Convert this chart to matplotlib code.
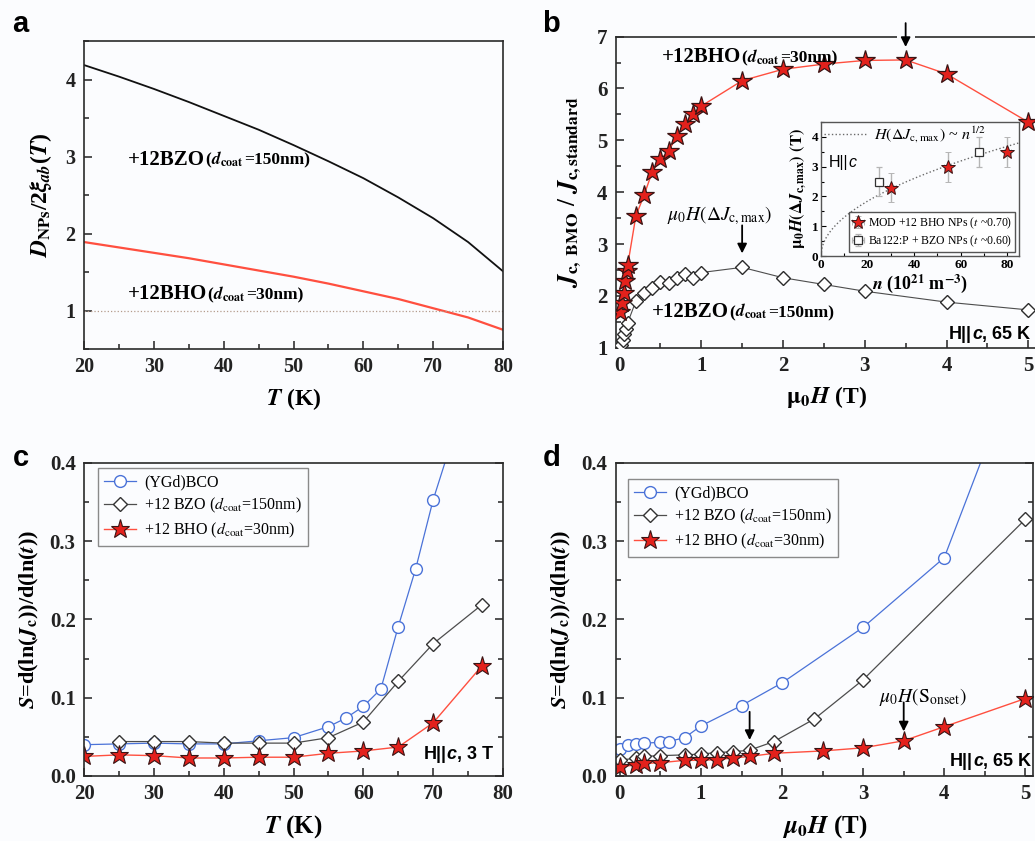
import numpy as np
import matplotlib
matplotlib.use("Agg")
import matplotlib.pyplot as plt
from matplotlib.ticker import MultipleLocator
from matplotlib.offsetbox import TextArea, HPacker, AnnotationBbox

plt.rcParams["font.family"] = "Liberation Serif"
plt.rcParams["axes.labelweight"] = "bold"
plt.rcParams["mathtext.fontset"] = "stix"
plt.rcParams["axes.linewidth"] = 1.2

BG = "#fbfcfe"
RED_LINE = "#ff4f3f"
RED_FILL = "#e3211c"
STAR_EDGE = "#3a1414"
BLUE = "#4a72d8"
GRAY = "#4d4d4d"

# ---- panel a: D_NPs / 2 xi_ab(T) ----
t_a = [20, 25, 30, 35, 40, 45, 50, 55, 60, 65, 70, 75, 80]
ratio_bzo = [4.19, 4.04, 3.88, 3.71, 3.53, 3.35, 3.15, 2.94, 2.72, 2.47, 2.20, 1.89, 1.51]
ratio_bho = [1.89, 1.82, 1.75, 1.68, 1.60, 1.52, 1.44, 1.35, 1.25, 1.15, 1.03, 0.91, 0.75]

# ---- panel b: Jc ratio vs field, 65 K ----
h_bho_b = [0.01, 0.03, 0.05, 0.07, 0.09, 0.1, 0.2, 0.3, 0.4, 0.5, 0.6, 0.7, 0.8, 0.9,
           1.0, 1.5, 2.0, 2.5, 3.0, 3.5, 4.0, 5.0]
jc_bho_b = [1.69, 1.87, 2.05, 2.29, 2.48, 2.59, 3.54, 3.94, 4.39, 4.63, 4.79, 5.08, 5.31,
            5.50, 5.66, 6.15, 6.37, 6.47, 6.54, 6.55, 6.28, 5.35]
h_bzo_b = [0.02, 0.04, 0.06, 0.08, 0.1, 0.2, 0.3, 0.4, 0.5, 0.6, 0.7, 0.8, 0.9, 1.0,
           1.5, 2.0, 2.5, 3.0, 4.0, 5.0]
jc_bzo_b = [1.05, 1.15, 1.27, 1.37, 1.48, 1.90, 2.06, 2.15, 2.27, 2.24, 2.34, 2.43, 2.35,
            2.45, 2.55, 2.35, 2.22, 2.09, 1.88, 1.73]

# inset: peak field vs NP density
n_bho = [30, 54.5, 80]
hmax_bho = [2.3, 3.0, 3.5]
err_bho = [0.5, 0.5, 0.5]
n_ba122 = [25, 68]
hmax_ba122 = [2.5, 3.5]
err_ba122 = [0.5, 0.5]
fit_coef = 0.412  # H ~ n^1/2

# ---- panel c: S vs T at 3 T ----
t_ygd = [20, 25, 30, 35, 40, 45, 50, 55, 57.5, 60, 62.5, 65, 67.5, 70, 77]
s_ygd = [0.040, 0.041, 0.042, 0.041, 0.041, 0.045, 0.049, 0.063, 0.074, 0.089, 0.111,
         0.191, 0.265, 0.353, 0.55]
t_bzo = [25, 30, 35, 40, 45, 50, 55, 60, 65, 70, 77]
s_bzo = [0.044, 0.044, 0.044, 0.042, 0.042, 0.042, 0.049, 0.069, 0.121, 0.169, 0.219]
t_bho = [20, 25, 30, 35, 40, 45, 50, 55, 60, 65, 70, 77]
s_bho = [0.025, 0.027, 0.026, 0.023, 0.023, 0.024, 0.024, 0.029, 0.032, 0.037, 0.068, 0.141]

# ---- panel d: S vs field at 65 K ----
h_ygd = [0, 0.1, 0.2, 0.3, 0.5, 0.6, 0.8, 1.0, 1.5, 2.0, 3.0, 4.0, 5.0]
sd_ygd = [0.034, 0.040, 0.041, 0.042, 0.043, 0.044, 0.049, 0.064, 0.090, 0.119, 0.190,
          0.279, 0.55]
h_bzo = [0, 0.2, 0.3, 0.5, 0.8, 1.0, 1.2, 1.4, 1.6, 1.9, 2.4, 3.0, 5.0]
sd_bzo = [0.020, 0.023, 0.025, 0.026, 0.027, 0.028, 0.030, 0.031, 0.033, 0.044, 0.073,
          0.123, 0.328]
h_bho = [0, 0.2, 0.3, 0.5, 0.8, 1.0, 1.2, 1.4, 1.6, 1.9, 2.5, 3.0, 3.5, 4.0, 5.0]
sd_bho = [0.012, 0.014, 0.016, 0.017, 0.020, 0.020, 0.021, 0.023, 0.025, 0.029, 0.032,
          0.036, 0.045, 0.063, 0.099]


def rich(ax, xy, parts, align=(0, 0.5), coords="data", zorder=6):
    """Place a run of differently styled text pieces on one baseline."""
    boxes = [TextArea(s, textprops=p) for s, p in parts]
    pack = HPacker(children=boxes, align="baseline", pad=0, sep=0)
    ab = AnnotationBbox(pack, xy, xycoords=coords, box_alignment=align,
                        frameon=False, pad=0, annotation_clip=False)
    ab.set_zorder(zorder)
    ax.add_artist(ab)


def sample_label(ax, xy, name, coat):
    small = dict(size=12.5, weight="bold")
    rich(ax, xy, [(name, dict(size=15, weight="bold")), ("(", small),
                  (r"$\mathbfit{d}_{\mathbf{coat}}$", dict(size=12.5)),
                  ("=" + coat + ")", small)])


def field_label(ax, head, tail, xy):
    sans = dict(family="Liberation Sans", size=13, weight="bold")
    rich(ax, xy, [(head, sans), ("c", dict(sans, style="italic")), (tail, sans)],
         align=(1, 0), coords="axes fraction")


def style_axes(ax, xmaj, xmin, ymaj, ymin, right=False, size=14.5):
    ax.set_facecolor(BG)
    ax.xaxis.set_major_locator(MultipleLocator(xmaj))
    ax.xaxis.set_minor_locator(MultipleLocator(xmin))
    ax.yaxis.set_major_locator(MultipleLocator(ymaj))
    ax.yaxis.set_minor_locator(MultipleLocator(ymin))
    ax.tick_params(which="both", direction="in", right=right, width=1.1,
                   labelsize=size, colors="#222")
    ax.tick_params(which="major", length=6, pad=6)
    ax.tick_params(which="minor", length=3.5)
    for lab in ax.get_xticklabels() + ax.get_yticklabels():
        lab.set_fontweight("bold")
    for sp in ax.spines.values():
        sp.set_color("#2a2a2a")


def arrow(ax, tail, tip, zorder=5):
    ax.annotate("", xy=tip, xytext=tail, annotation_clip=False, zorder=zorder,
                arrowprops=dict(arrowstyle="-|>", color="black", lw=1.3,
                                mutation_scale=14, shrinkA=0, shrinkB=0))


fig = plt.figure(figsize=(10.35, 8.41), dpi=100, facecolor=BG)

# ---------------- a ----------------
ax_a = fig.add_axes([0.0812, 0.585, 0.4048, 0.366])
ax_a.plot(t_a, ratio_bzo, color="#111111", lw=1.3)
ax_a.plot(t_a, ratio_bho, color=RED_LINE, lw=1.6)
ax_a.axhline(1, color="#b49c8c", lw=0.9, ls=":")
ax_a.set_xlim(20, 80)
ax_a.set_ylim(0.5, 4.5)
style_axes(ax_a, 10, 5, 1, 0.5)
ax_a.set_xlabel(r"$\mathbfit{T}$ (K)", size=17, labelpad=6)
ax_a.set_ylabel(r"$\mathbfit{D}_{\mathbf{NPs}}$/2$\mathbfit{\xi}_{\mathbfit{ab}}$"
                r"($\mathbfit{T}$)", size=17, labelpad=8)
sample_label(ax_a, (26.3, 2.96), "+12BZO", "150nm")
sample_label(ax_a, (26.3, 1.21), "+12BHO", "30nm")

# ---------------- b ----------------
ax_b = fig.add_axes([0.595, 0.5865, 0.4064, 0.3700])
ax_b.plot(h_bzo_b, jc_bzo_b, color=GRAY, lw=0.8, marker="D", ms=7, mfc="white",
          mec="#2b2b2b", mew=1.0, zorder=3)
ax_b.plot(h_bho_b, jc_bho_b, color=RED_LINE, lw=1.0, marker="*", ms=15, mfc=RED_FILL,
          mec=STAR_EDGE, mew=0.9, zorder=4)
ax_b.set_xlim(-0.045, 5.1)
ax_b.set_ylim(1, 7)
style_axes(ax_b, 1, 0.5, 1, 0.5, size=15)
ax_b.spines["right"].set_visible(False)
ax_b.set_xlabel(r"$\mathbf{\mu_0}\mathbfit{H}$ (T)", size=17, labelpad=6)
ax_b.set_ylabel(r"$\mathbfit{J}_{\mathbf{c,\ BMO}}$ / $\mathbfit{J}_{\mathbf{c,standard}}$",
                size=18, labelpad=10)
sample_label(ax_b, (0.52, 6.6), "+12BHO", "30nm")
sample_label(ax_b, (0.40, 1.69), "+12BZO", "150nm")
ax_b.text(1.23, 3.55, r"$\mu_0H(\Delta J_{\rm c,max})$", size=14,
          ha="center", va="center")
arrow(ax_b, (1.5, 3.36), (1.5, 2.82))
ax_b.plot([3.39, 3.61], [7, 7], color=BG, lw=4, clip_on=False, zorder=3,
          solid_capstyle="butt")
arrow(ax_b, (3.5, 7.26), (3.5, 6.80))
field_label(ax_b, "H||", ", 65 K", (0.985, 0.015))

# inset
ax_in = fig.add_axes([0.7932, 0.6956, 0.1913, 0.1593])
n_fit = np.linspace(0, 85, 300)
ax_in.plot(n_fit, fit_coef * np.sqrt(n_fit), color="#6a6a6a", lw=1.0, ls=":",
           label=r"$H(\Delta J_{\rm c,max})$ ~ $n^{1/2}$")
ax_in.errorbar(n_bho, hmax_bho, yerr=err_bho, xerr=1.5, fmt="*", ms=10, mfc=RED_FILL,
               mec=STAR_EDGE, mew=0.7, ecolor="#b5b5b5", elinewidth=1.0, capsize=2,
               label=r"MOD +12 BHO NPs ($t$ ~0.70)")
ax_in.errorbar(n_ba122, hmax_ba122, yerr=err_ba122, xerr=1.5, fmt="s", ms=6,
               mfc="white", mec="#333333", mew=0.9, ecolor="#b5b5b5", elinewidth=1.0,
               capsize=2, label=r"Ba122:P + BZO NPs ($t$ ~0.60)")
ax_in.set_xlim(0, 85)
ax_in.set_ylim(0, 4.5)
ax_in.set_facecolor(BG)
ax_in.xaxis.set_major_locator(MultipleLocator(20))
ax_in.xaxis.set_minor_locator(MultipleLocator(10))
ax_in.yaxis.set_major_locator(MultipleLocator(1))
ax_in.yaxis.set_minor_locator(MultipleLocator(0.5))
ax_in.tick_params(which="both", direction="in", labelsize=9.5, pad=2, width=0.8)
ax_in.tick_params(which="major", length=3.5)
ax_in.tick_params(which="minor", length=2)
for lab in ax_in.get_xticklabels() + ax_in.get_yticklabels():
    lab.set_fontweight("bold")
for sp in ax_in.spines.values():
    sp.set_color("#555555")
    sp.set_linewidth(1.0)
ax_in.set_xlabel(r"$\mathbfit{n}$ (10$^{\mathbf{21}}$ m$^{\mathbf{-3}}$)", size=13,
                 labelpad=1)
ax_in.set_ylabel(r"$\mathbf{\mu_0}\mathbfit{H}\mathbf{(\Delta}\mathbfit{J}_{\mathbf{c,max}}"
                 r"\mathbf{)\ (T)}$", size=12, labelpad=2)
hs, ls = ax_in.get_legend_handles_labels()
fit_leg = ax_in.legend([hs[0]], [ls[0]], loc="upper left", frameon=False,
                       prop=dict(size=11.5), handlelength=2.6,
                       borderaxespad=0.1, borderpad=0.1, handletextpad=0.5)
ax_in.add_artist(fit_leg)
ax_in.legend(hs[1:], ls[1:], loc="lower right", prop=dict(size=8.5),
             fancybox=False, edgecolor="#555555", framealpha=1, facecolor="white",
             handlelength=1.0, handletextpad=0.3, borderpad=0.3, labelspacing=0.25,
             borderaxespad=0.3)
rich(ax_in, (0.04, 0.70), [("H||", dict(family="Liberation Sans", size=11.5)),
                           ("c", dict(family="Liberation Sans", size=11.5,
                                      style="italic"))],
     coords="axes fraction")

# ---------------- c ----------------
ylab_s = (r"$\mathbfit{S}$=d(ln($\mathbfit{J}_{\mathbf{c}}$))/d(ln($\mathbfit{t}$))")
leg_kw = dict(loc="upper left", borderaxespad=0, prop=dict(size=11.5),
              fancybox=False, edgecolor="#8a8a8a", framealpha=1, facecolor=BG,
              handlelength=2.0, labelspacing=0.35, borderpad=0.4, handletextpad=0.5)

ax_c = fig.add_axes([0.0812, 0.0773, 0.4048, 0.3722])
ax_c.plot(t_ygd, s_ygd, color=BLUE, lw=0.9, marker="o", ms=8.5, mfc="white", mec=BLUE,
          mew=1.0, label="(YGd)BCO")
ax_c.plot(t_bzo, s_bzo, color=GRAY, lw=0.9, marker="D", ms=7, mfc="white", mec="#333333",
          mew=1.0, label=r"+12 BZO ($d_{\rm coat}$=150nm)")
ax_c.plot(t_bho, s_bho, color=RED_LINE, lw=1.0, marker="*", ms=14, mfc=RED_FILL,
          mec=STAR_EDGE, mew=0.8, label=r"+12 BHO ($d_{\rm coat}$=30nm)")
ax_c.set_xlim(20, 80)
ax_c.set_ylim(0, 0.4)
style_axes(ax_c, 10, 5, 0.1, 0.05, right=True, size=15)
ax_c.set_xlabel(r"$\mathbfit{T}$ (K)", size=18, labelpad=6)
ax_c.set_ylabel(ylab_s, size=16, labelpad=6)
ax_c.legend(bbox_to_anchor=(0.033, 0.984), **leg_kw)
field_label(ax_c, "H||", ", 3 T", (0.976, 0.04))

# ---------------- d ----------------
ax_d = fig.add_axes([0.595, 0.0773, 0.4035, 0.3722])
ax_d.plot(h_ygd, sd_ygd, color=BLUE, lw=0.9, marker="o", ms=8.5, mfc="white", mec=BLUE,
          mew=1.0, label="(YGd)BCO")
ax_d.plot(h_bzo, sd_bzo, color=GRAY, lw=0.9, marker="D", ms=7, mfc="white", mec="#333333",
          mew=1.0, label=r"+12 BZO ($d_{\rm coat}$=150nm)")
ax_d.plot(h_bho, sd_bho, color=RED_LINE, lw=1.0, marker="*", ms=14, mfc=RED_FILL,
          mec=STAR_EDGE, mew=0.8, label=r"+12 BHO ($d_{\rm coat}$=30nm)")
ax_d.set_xlim(-0.05, 5.1)
ax_d.set_ylim(0, 0.4)
style_axes(ax_d, 1, 0.5, 0.1, 0.05, right=True, size=15)
ax_d.set_xlabel(r"$\mathbfit{\mu}_{\mathbf{0}}\mathbfit{H}$ (T)", size=18, labelpad=6)
ax_d.set_ylabel(ylab_s, size=16, labelpad=6)
ax_d.legend(bbox_to_anchor=(0.029, 0.949), **leg_kw)
ax_d.text(3.74, 0.101, r"$\mu_0H(\mathrm{S}_{\rm onset})$", size=14,
          ha="center", va="center")
arrow(ax_d, (3.5, 0.094), (3.5, 0.057))
arrow(ax_d, (1.6, 0.082), (1.6, 0.046))
field_label(ax_d, "H||", ", 65 K", (0.994, 0.02))

# panel letters
for letter, x, y in [("a", 0.012, 0.972), ("b", 0.524, 0.972),
                     ("c", 0.012, 0.455), ("d", 0.524, 0.455)]:
    fig.text(x, y, letter, family="Liberation Sans", weight="bold", size=21,
             ha="left", va="center")

fig.savefig("out.png", dpi=100, facecolor=BG)
